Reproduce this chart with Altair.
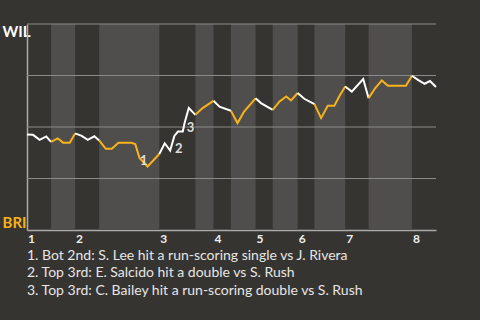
import altair as alt
import pandas as pd

# Plate-appearance index (x) and WIL win probability (y)
pa = [0, 1.0, 2.1, 3.2, 4, 5.1, 6.0, 7.1, 8, 9.1, 10.1, 11.2, 12, 13.1, 14.1, 15.2,
      17.3, 18.0, 18.7, 20.05, 22, 22.9, 23.8, 24.5, 25.1, 25.9, 26.2, 26.9, 28, 29.2,
      31, 32, 33.9, 35.0, 36.1, 38, 38.9, 40.85, 42, 43.1, 43.9, 45, 46.1, 47.8, 48.9,
      50, 51.1, 51.9, 52.9, 54, 55.9, 56.8, 57.9, 59, 60, 63, 64, 65, 66.1, 67, 68]
wil_prob = [0.464, 0.462, 0.438, 0.454, 0.428, 0.445, 0.424, 0.424, 0.469, 0.457, 0.438,
            0.455, 0.435, 0.394, 0.394, 0.423, 0.423, 0.417, 0.350, 0.308, 0.369, 0.421,
            0.386, 0.457, 0.478, 0.478, 0.520, 0.592, 0.559, 0.592, 0.627, 0.599, 0.579,
            0.519, 0.575, 0.639, 0.616, 0.583, 0.624, 0.648, 0.629, 0.665, 0.637, 0.611,
            0.543, 0.603, 0.603, 0.648, 0.697, 0.672, 0.733, 0.640, 0.689, 0.726, 0.700,
            0.700, 0.749, 0.729, 0.710, 0.723, 0.694]

# Half-inning boundaries (top 1, bot 1, top 2, ...)
half_bounds = [0, 4, 8, 12, 22, 28, 31, 33.9, 38, 40.85, 45, 47.8, 52.9, 56.8, 64, 68]
inning_numbers = ["1", "2", "3", "4", "5", "6", "7", "8"]

# Key events
event_x = [19.4, 25.25, 27.2]
event_y = [0.335, 0.392, 0.494]
event_label = ["1", "2", "3"]

notes = [
    "1. Bot 2nd: S. Lee hit a run-scoring single vs J. Rivera",
    "2. Top 3rd: E. Salcido hit a double vs S. Rush",
    "3. Top 3rd: C. Bailey hit a run-scoring double vs S. Rush",
]

grid_values = [0.25, 0.5, 0.75, 1.0]

ORANGE = "#f8b21c"
BG = "#363430"
LIGHT_BAND = "#4f4e4c"
FONT = "Lato"

# Build tables
rows = []
for k in range(len(half_bounds) - 1):
    lo, hi = half_bounds[k], half_bounds[k + 1]
    team = "WIL" if k % 2 == 0 else "BRI"
    for x, y in zip(pa, wil_prob):
        if lo <= x <= hi:
            rows.append({"pa": x, "p": y, "half": k, "team": team})
line_df = pd.DataFrame(rows)

bands_df = pd.DataFrame([
    {"x0": half_bounds[k], "x1": half_bounds[k + 1]}
    for k in range(1, len(half_bounds) - 1, 2)
])
grid_df = pd.DataFrame({"g": grid_values})
events_df = pd.DataFrame({"x": event_x, "y": event_y, "label": event_label})

top_starts = [half_bounds[k] for k in range(0, len(half_bounds) - 1, 2)]
innings_df = pd.DataFrame({"start": top_starts, "inning": inning_numbers})

xscale = alt.Scale(domain=[0, 68], nice=False, zero=False)
yscale = alt.Scale(domain=[0, 1], nice=False, zero=False)

xaxis = alt.Axis(values=top_starts, labels=False, title=None, grid=False,
                 ticks=False, domainColor="#aaaaaa", domainWidth=1.5)
yaxis = alt.Axis(values=[0, 1], labelExpr="datum.value == 1 ? 'WIL' : 'BRI'",
                 title=None, grid=False, ticks=False, domainColor="#aaaaaa",
                 domainWidth=1.5, labelAlign="left", labelPadding=25,
                 labelFont=FONT, labelFontSize=15, labelFontWeight="bold",
                 labelColor=alt.condition("datum.value == 1", alt.value("#ffffff"), alt.value(ORANGE)),
                 labelBaseline=alt.condition("datum.value == 1", alt.value("top"), alt.value("bottom")),
                 labelFlush=False, labelOverlap=False, labelBound=False)

bands = alt.Chart(bands_df).mark_rect(color=LIGHT_BAND).encode(
    x=alt.X("x0:Q", scale=xscale, axis=xaxis),
    x2="x1:Q",
    y=alt.datum(0, scale=yscale, axis=yaxis),
    y2=alt.datum(1),
)

grid = alt.Chart(grid_df).mark_rule(color="#8a8a88", strokeWidth=1).encode(
    y=alt.Y("g:Q", scale=yscale, axis=yaxis),
)

line = alt.Chart(line_df).mark_line(strokeWidth=2).encode(
    x=alt.X("pa:Q", scale=xscale, axis=xaxis),
    y=alt.Y("p:Q", scale=yscale, axis=yaxis),
    detail="half:N",
    color=alt.Color("team:N", scale=alt.Scale(domain=["WIL", "BRI"], range=["#ffffff", ORANGE]), legend=None),
)

labels = alt.Chart(events_df).mark_text(font=FONT, fontSize=13, fontWeight="bold",
                                        color="#dddddd", align="center", baseline="middle").encode(
    x=alt.X("x:Q", scale=xscale, axis=xaxis),
    y=alt.Y("y:Q", scale=yscale, axis=yaxis),
    text="label:N",
)

inning_text = alt.Chart(innings_df).mark_text(font=FONT, fontSize=12, fontWeight="bold",
                                              color="#eeeeee", align="left", baseline="top",
                                              dy=4, dx=1).encode(
    x=alt.X("start:Q", scale=xscale, axis=xaxis),
    y=alt.datum(0, scale=yscale, axis=yaxis),
    text="inning:N",
)

chart = alt.layer(bands, grid, line, labels, inning_text).properties(
    width=409, height=206,
    autosize=alt.AutoSizeParams(type="none"),
    padding={"left": 27, "top": 24, "right": 44, "bottom": 90},
    background=BG,
    title=alt.TitleParams(text=notes, orient="bottom", anchor="start", frame="group",
                          font=FONT, fontSize=14, fontWeight="normal", color="#e6e6e6",
                          lineHeight=17.5, offset=3.5, baseline="top"),
).configure_view(stroke=None)

chart.save("out.html", embed_options={"renderer": "svg", "actions": False})
